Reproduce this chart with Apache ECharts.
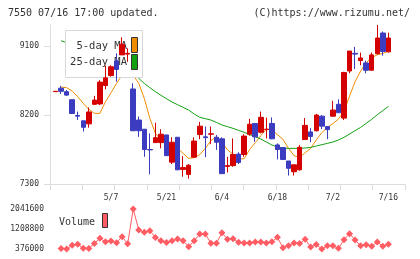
<!DOCTYPE html>
<html>
<head>
<meta charset="utf-8">
<script src="https://cdn.jsdelivr.net/npm/echarts@6/dist/echarts.min.js"></script>
<style>
html, body { margin: 0; padding: 0; background: #fff; }
#chart { width: 420px; height: 259px; }
</style>
</head>
<body>
<div id="chart"></div>
<script>
// trading days shown on the chart
var dates = ['4/18','4/21','4/22','4/23','4/24','4/25','4/28','4/30','5/1','5/2',
  '5/7','5/8','5/9','5/12','5/13','5/14','5/15','5/16','5/19','5/20',
  '5/21','5/22','5/23','5/26','5/27','5/28','5/29','5/30','6/2','6/3',
  '6/4','6/5','6/6','6/9','6/10','6/11','6/12','6/13','6/16','6/17',
  '6/18','6/19','6/20','6/23','6/24','6/25','6/26','6/27','6/30','7/1',
  '7/2','7/3','7/4','7/7','7/8','7/9','7/10','7/11','7/14','7/15','7/16'];

var opens  = [8505,8550,8505,8400,8195,8125,8085,8340,8345,8585,
  8715,8905,8985,8995,8540,8135,8015,7750,7840,7840,
  7940,7585,7910,7490,7425,7650,7945,7915,7950,7910,
  7890,7530,7540,7690,7685,7950,8090,7975,8010,8090,
  7810,7775,7600,7460,7485,7880,7980,7995,8185,8050,
  8185,8340,8160,8775,9005,8910,8880,8785,9000,9270,9025];
var closes = [8510,8510,8460,8220,8185,8040,8240,8395,8630,8685,
  8830,8795,9125,9005,7995,7995,7750,7745,7905,7950,
  7670,7845,7485,7515,7545,7860,8055,7905,7955,7845,
  7435,7540,7685,7580,7925,8080,7915,8170,8015,7890,
  7750,7620,7505,7550,7780,8065,7920,8200,8055,8010,
  8265,8230,8755,9035,8995,8945,8785,8985,9205,9030,9205];
var lows   = [8505,8475,8450,8220,8135,7985,8035,8330,8330,8535,
  8700,8635,8985,8895,7995,7915,7655,7425,7840,7765,
  7670,7560,7485,7395,7370,7645,7885,7650,7820,7745,
  7435,7450,7525,7560,7655,7930,7850,7960,7895,7885,
  7620,7620,7410,7410,7475,7875,7845,7985,8015,7885,
  8180,8230,8135,8745,8800,8850,8745,8780,8990,8975,9015];
var highs  = [8515,8580,8525,8400,8245,8125,8300,8450,8655,8845,
  8850,9005,9215,9070,8615,8180,8015,7960,8100,8015,
  7940,7910,7910,7665,7560,7910,8110,8050,8050,7940,
  7910,7655,7895,7715,7950,8150,8090,8245,8165,8170,
  7830,7775,7600,7550,7810,8160,8030,8215,8200,8055,
  8385,8405,8765,9035,9090,9015,8910,9015,9375,9290,9275];

var ma5 = [null,8565,8557,8513,8439,8352,8274,8222,8222,8374,
  8491,8613,8722,8787,8722,8613,8417,8157,7961,7874,
  7809,7787,7765,7700,7635,7644,7683,7765,7865,7917,
  7848,7744,7691,7626,7630,7752,7839,7930,8017,8004,
  7944,7883,7765,7670,7648,7709,7765,7874,7970,8039,
  8087,8148,8244,8448,8635,8774,8883,8948,8987,9004,9035];
var ma25 = [null,9170,9143,9113,9091,9065,9039,9013,8987,8961,
  8930,8900,8865,8826,8765,8678,8613,8557,8504,8457,
  8413,8370,8335,8300,8265,8213,8170,8152,8135,8104,
  8070,8048,8026,8000,7974,7944,7917,7887,7848,7809,
  7783,7770,7765,7765,7765,7770,7778,7796,7813,7830,
  7848,7874,7909,7952,7996,8039,8091,8144,8204,8257,8313];

var volumes = [null,400000,376000,530000,570000,410000,400000,610000,820000,680000,
  710000,640000,890000,590000,2041600,1170000,1070000,1140000,860000,720000,
  650000,720000,790000,720000,470000,720000,1000000,1000000,620000,620000,
  1050000,785000,800000,654000,630000,630000,665000,665000,630000,681000,
  862000,430000,515000,625000,600000,779000,460000,560000,380000,508000,
  508000,404000,765000,1015000,751000,508000,550000,490000,665000,490000,575000];

var dateLabels = ['5/7','5/21','6/4','6/18','7/2','7/16'];
var priceTicks = [7300, 8200, 9100];
var volumeTicks = [376000, 1208800, 2041600];

// one empty slot before the first day and three after the last
var categories = ['p0'].concat(dates, ['p1', 'p2', 'p3']);
function padded(arr) {
  return ['-'].concat(arr.map(function (v) { return v == null ? '-' : v; }), ['-', '-', '-']);
}
var candles = padded(dates.map(function (d, i) {
  return [opens[i], closes[i], lows[i], highs[i]];
}));

var mono = 'DejaVu Sans Mono';
var up = '#d40000', down = '#3c3cc0';
function plain(v) { return String(v); }

var chart = echarts.init(document.getElementById('chart'));
var option = {
  animation: false,
  grid: [
    { left: 50, right: 15, top: 25, height: 159 },
    { left: 50, right: 15, top: 209, height: 40 }
  ],
  xAxis: [
    { type: 'category', gridIndex: 0, data: categories, boundaryGap: false, position: 'top', show: false },
    { type: 'value', gridIndex: 0, min: 0, max: 11, interval: 1, position: 'bottom',
      axisLine: { onZero: false, lineStyle: { color: '#ddd' } },
      axisTick: { length: 6, lineStyle: { color: '#ddd' } },
      axisLabel: { show: false }, splitLine: { show: false } },
    { type: 'category', gridIndex: 1, data: categories, boundaryGap: false, position: 'top',
      axisLine: { show: false }, axisTick: { show: false }, splitLine: { show: false },
      axisLabel: {
        interval: function (i, v) { return dateLabels.indexOf(v) >= 0; },
        fontFamily: mono, fontSize: 8, color: '#333', margin: 7
      } }
  ],
  yAxis: [
    { type: 'value', gridIndex: 0, min: 7300, max: 9375,
      axisLine: { show: true, onZero: false, lineStyle: { color: '#ddd' } },
      axisTick: { show: true, length: 6, customValues: priceTicks, lineStyle: { color: '#ddd' } },
      axisLabel: { customValues: priceTicks, formatter: plain, fontFamily: mono, fontSize: 8, color: '#333', margin: 11 },
      splitLine: { show: false } },
    { type: 'value', gridIndex: 1, min: 376000, max: 2041600,
      axisLine: { show: false }, axisTick: { show: false },
      axisLabel: { customValues: volumeTicks, formatter: plain, fontFamily: mono, fontSize: 8, color: '#333', margin: 6 },
      splitLine: { show: false } }
  ],
  series: [
    { type: 'line', name: '5-day MA', xAxisIndex: 0, yAxisIndex: 0, data: padded(ma5),
      symbol: 'none', z: 1, lineStyle: { color: '#f08c00', width: 1 } },
    { type: 'line', name: '25-day MA', xAxisIndex: 0, yAxisIndex: 0, data: padded(ma25),
      symbol: 'none', z: 1, lineStyle: { color: '#10a010', width: 1 } },
    { type: 'candlestick', xAxisIndex: 0, yAxisIndex: 0, data: candles, barWidth: 5, z: 5,
      itemStyle: { color: up, color0: down, borderColor: up, borderColor0: down, borderWidth: 1 } },
    { type: 'line', name: 'Volume', xAxisIndex: 2, yAxisIndex: 1, data: padded(volumes),
      symbol: 'diamond', symbolSize: 7, showAllSymbol: true, z: 2,
      lineStyle: { color: '#ff5c64', width: 1 }, itemStyle: { color: '#ff5c64' } }
  ],
  graphic: [
    { type: 'text', x: 8, y: 13, z: 1,
      style: { text: '7550 07/16 17:00 updated.', font: '10px ' + mono, fill: '#333', verticalAlign: 'middle' } },
    { type: 'text', x: 410, y: 13, z: 1,
      style: { text: '(C)https://www.rizumu.net/', font: '10px ' + mono, fill: '#333', align: 'right', verticalAlign: 'middle' } },
    { type: 'rect', z: 3, shape: { x: 65.5, y: 30.5, width: 77, height: 47 },
      style: { fill: '#fff', stroke: '#d8d8d8', lineWidth: 1 } },
    { type: 'text', x: 127, y: 46, z: 3,
      style: { text: '5-day MA', font: '10.5px ' + mono, fill: '#333', align: 'right', verticalAlign: 'middle' } },
    { type: 'text', x: 127, y: 62, z: 3,
      style: { text: '25-day MA', font: '10.5px ' + mono, fill: '#333', align: 'right', verticalAlign: 'middle' } },
    { type: 'rect', z: 3, shape: { x: 131.5, y: 37.5, width: 6, height: 15 },
      style: { fill: '#f08c00', stroke: '#333', lineWidth: 1 } },
    { type: 'rect', z: 3, shape: { x: 131.5, y: 54.5, width: 6, height: 15 },
      style: { fill: '#10a010', stroke: '#333', lineWidth: 1 } },
    { type: 'text', x: 59, y: 222, z: 3,
      style: { text: 'Volume', font: '10px ' + mono, fill: '#333', verticalAlign: 'middle' } },
    { type: 'rect', z: 3, shape: { x: 102.5, y: 213.5, width: 5, height: 14 },
      style: { fill: '#ff5c64', stroke: '#333', lineWidth: 1 } }
  ]
};
chart.setOption(option);
</script>
</body>
</html>
